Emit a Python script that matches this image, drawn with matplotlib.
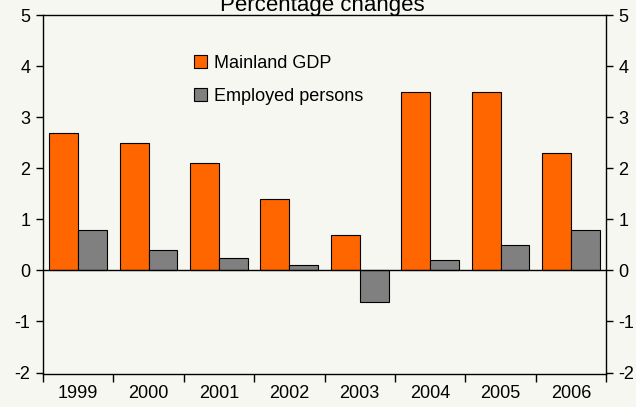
import numpy as np
import matplotlib.pyplot as plt

plt.rcParams['font.family'] = ['Liberation Sans', 'DejaVu Sans']
plt.rcParams['axes.unicode_minus'] = False

years = ["1999", "2000", "2001", "2002", "2003", "2004", "2005", "2006"]
gdp = [2.7, 2.5, 2.1, 1.4, 0.7, 3.5, 3.5, 2.3]
employed = [0.8, 0.4, 0.25, 0.1, -0.62, 0.2, 0.5, 0.8]

bg = "#f7f7f2"
fig = plt.figure(figsize=(6.36, 4.07), dpi=100, facecolor=bg)
ax = fig.add_axes([0.0676, 0.081, 0.8854, 0.882], facecolor=bg)

x = np.arange(len(years))
w = 0.41
ax.bar(x - w / 2, gdp, w, color="#ff6600", edgecolor="black", linewidth=0.8,
       label="Mainland GDP", zorder=3)
ax.bar(x + w / 2, employed, w, color="#808080", edgecolor="black", linewidth=0.8,
       label="Employed persons", zorder=3)
ax.axhline(0, color="black", linewidth=1, zorder=4)

ax.set_xlim(-0.5, len(years) - 0.5)
ax.set_ylim(-2.03, 5)
ax.set_yticks(range(-2, 6))
ax.set_xticks(x)
ax.set_xticklabels(years)
ax.set_xticks(np.arange(-0.5, len(years)), minor=True)
ax.tick_params(axis="x", which="major", length=0, pad=8, labelsize=13)
ax.tick_params(axis="x", which="minor", length=6, width=1)
ax.tick_params(axis="y", length=5, width=1, labelsize=13, left=True, right=True,
               labelleft=True, labelright=True, pad=4)
for s in ax.spines.values():
    s.set_linewidth(1)

fig.text(0.507, 1 - 11 / 407, "Percentage changes", ha="center",
         va="baseline", fontsize=16)

ax.legend(loc="upper left", bbox_to_anchor=(0.24, 0.935), frameon=False,
          fontsize=13, handlelength=0.7, handleheight=0.7, labelspacing=0.9,
          handletextpad=0.4)

fig.savefig("out.png", dpi=100, facecolor=bg)
